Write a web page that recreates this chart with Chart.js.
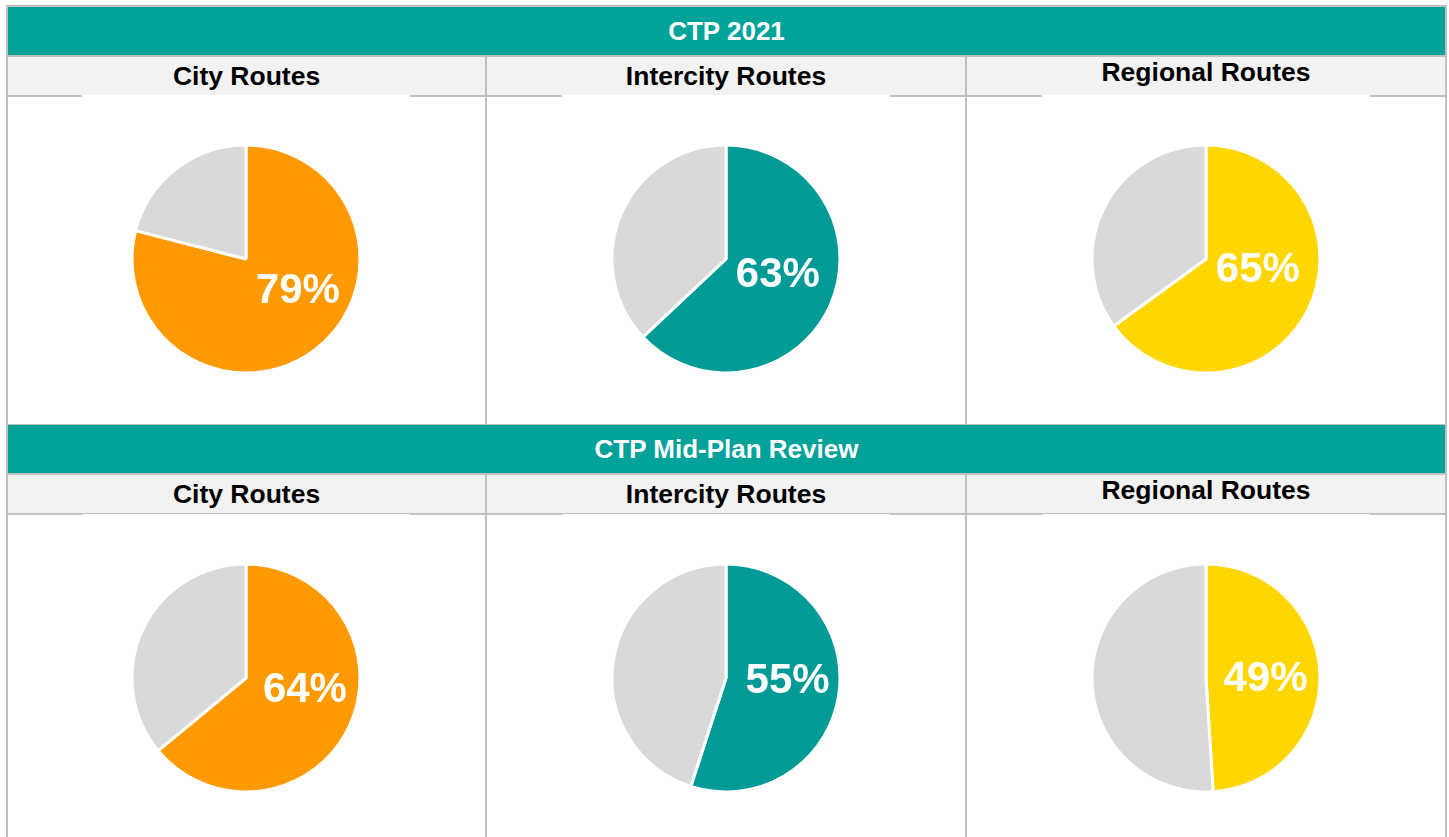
<!DOCTYPE html>
<html>
<head>
<meta charset="utf-8">
<script src="https://cdn.jsdelivr.net/npm/chart.js@4.4.0/dist/chart.umd.min.js"></script>
<style>
  html, body { margin: 0; padding: 0; background: #ffffff; width: 1449px; height: 837px; overflow: hidden; }
  .abs { position: absolute; }
  .line { background: #c0c0c0; }
  .band { background: #00a29a; color: #ffffff; font: bold 26px "Liberation Sans", Arial, sans-serif; text-align: center; }
  .sub { background: #f2f2f2; }
  .subtxt { color: #000000; font: bold 26.5px "Liberation Sans", Arial, sans-serif; text-align: center; }
  canvas.pie { position: absolute; background: #ffffff; }
</style>
</head>
<body>
<div id="root"></div>
<script>
// ---- data ----
const sectionTitles = ["CTP 2021", "CTP Mid-Plan Review"];
const categories = ["City Routes", "Intercity Routes", "Regional Routes"];
const completedCtp2021 = [79, 63, 65];
const completedMidPlan = [64, 55, 49];
const sliceColors = ["#ff9900", "#009b97", "#ffd600"];
const remainderColor = "#d9d9d9";

// ---- layout (static table frame) ----
const root = document.getElementById('root');
function box(cls, l, t, w, h, txt, extra) {
  const d = document.createElement('div');
  d.className = 'abs ' + cls;
  d.style.left = l + 'px'; d.style.top = t + 'px';
  d.style.width = w + 'px'; d.style.height = h + 'px';
  if (txt !== undefined) { d.textContent = txt; }
  if (extra) Object.assign(d.style, extra);
  root.appendChild(d);
  return d;
}
const colLeft = [8, 487, 967];
const colWidth = [477, 478, 478];
const sectionTop = [7, 425];
const rowBottom = [424, 837];
// outer frame
box('line', 6, 5, 1441, 2);
box('line', 6, 5, 2, 832);
box('line', 1445, 5, 2, 832);
sectionTop.forEach((top, s) => {
  box('band', 8, top, 1437, 48, sectionTitles[s], { lineHeight: '48px' });
  box('line', 8, top + 48, 1437, 2);
  box('sub', 8, top + 50, 1437, 38);
  box('line', 8, top + 88, 1437, 2);
  box('line', 485, top + 50, 2, rowBottom[s] - top - 50);
  box('line', 965, top + 50, 2, rowBottom[s] - top - 50);
  if (s === 0) box('line', 8, 424, 1437, 1);
  categories.forEach((c, i) => {
    const up = i === 2 ? 4 : 0;
    box('subtxt', colLeft[i], top + 50 - up, colWidth[i], 38, c, { lineHeight: '38px' });
  });
});

// ---- label nudges (label placement relative to pie centre, in radius units) ----
const labelNudge = [
  [[0.455, 0.285], [0.455, 0.143], [0.455, 0.098]],
  [[0.517, 0.112], [0.54, 0.031], [0.522, 0.013]]
];

const pctLabelPlugin = {
  id: 'pctLabel',
  afterDatasetsDraw(chart, args, opts) {
    const arc = chart.getDatasetMeta(0).data[0];
    if (!arc) return;
    const { x, y, outerRadius } = arc.getProps(['x', 'y', 'outerRadius'], true);
    const ctx = chart.ctx;
    ctx.save();
    ctx.fillStyle = '#ffffff';
    ctx.font = 'bold 42px "Liberation Sans", Arial, sans-serif';
    ctx.textAlign = 'center';
    ctx.textBaseline = 'middle';
    ctx.fillText(chart.data.datasets[0].data[0] + '%', x + opts.nudge[0] * outerRadius, y + opts.nudge[1] * outerRadius);
    ctx.restore();
  }
};

const series = [completedCtp2021, completedMidPlan];
const canvasTop = [95, 514];
const canvasLeft = [82, 562, 1042];
series.forEach((vals, s) => {
  vals.forEach((v, i) => {
    const cv = document.createElement('canvas');
    cv.className = 'pie';
    cv.width = 328; cv.height = 328;
    cv.style.width = '328px'; cv.style.height = '328px';
    cv.style.left = canvasLeft[i] + 'px';
    cv.style.top = canvasTop[s] + 'px';
    root.appendChild(cv);
    new Chart(cv, {
      type: 'pie',
      data: {
        labels: ['Completed', 'Remaining'],
        datasets: [{
          data: [v, 100 - v],
          backgroundColor: [sliceColors[i], remainderColor],
          borderColor: '#ffffff',
          borderWidth: 3
        }]
      },
      options: {
        responsive: false,
        animation: false,
        radius: 114,
        layout: { padding: 0 },
        plugins: {
          legend: { display: false },
          tooltip: { enabled: false },
          pctLabel: { nudge: labelNudge[s][i] }
        }
      },
      plugins: [pctLabelPlugin]
    });
  });
});
</script>
</body>
</html>
